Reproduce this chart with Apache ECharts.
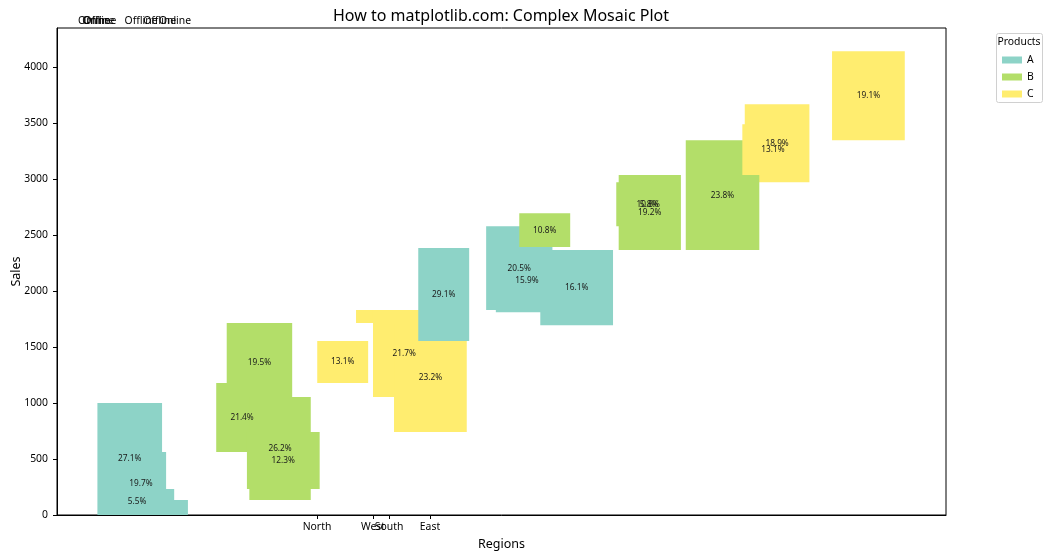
<!DOCTYPE html>
<html>
<head>
<meta charset="utf-8">
<script src="https://cdn.jsdelivr.net/npm/echarts@6/dist/echarts.min.js"></script>
<style>
  html, body { margin: 0; padding: 0; background: #fff; }
  #chart { width: 1050px; height: 560px; }
</style>
</head>
<body>
<div id="chart"></div>
<script>
// products and their colours
const products = ["A", "B", "C"]
const productColors = ["#8dd3c7", "#b3de69", "#ffed6f"]

// tiles, in drawing order (later ones cover earlier ones)
const tileProduct = ["A", "A", "A", "A", "B", "B", "B", "B", "C", "C", "C", "C",
  "A", "A", "A", "A", "B", "C", "B", "B", "C", "B", "C", "C"]
const tileX0 = [0.000, 0.023, 0.003, 0.028, 0.160, 0.147, 0.188, 0.185, 0.272, 0.320, 0.341, 0.367,
  0.397, 0.481, 0.493, 0.548, 0.522, 0.650, 0.642, 0.645, 0.801, 0.728, 0.798, 0.909]
const tileX1 = [0.080, 0.085, 0.095, 0.112, 0.241, 0.211, 0.264, 0.275, 0.335, 0.400, 0.418, 0.457,
  0.460, 0.563, 0.570, 0.638, 0.585, 0.715, 0.721, 0.722, 0.881, 0.819, 0.874, 0.999]
const tileY0 = [0, 0, 0, 0, 1000, 562, 134, 232, 1179, 1714, 1054, 741,
  1554, 1830, 1812, 1696, 2393, 2650, 2580, 2366, 2973, 2366, 3036, 3348]
const tileY1 = [1000, 562, 232, 134, 1714, 1179, 1054, 741, 1554, 1830, 1830, 1705,
  2384, 2580, 2366, 2366, 2696, 2900, 2973, 3036, 3670, 3348, 3491, 4143]
const tileShare = [27.1, 19.7, 5.5, null, 19.5, 21.4, 26.2, 12.3, 13.1, null, 21.7, 23.2,
  29.1, 20.5, 15.9, 16.1, 10.8, 5.8, 10.8, 19.2, 18.9, 23.8, 13.1, 19.1]

// region ticks on the x axis
const regionNames = ["North", "West", "South", "East"]
const regionTicks = [0.2717, 0.341, 0.361, 0.4115]

// channel labels above the plot
const channelNames = ["Online", "Offline", "Online", "Offline", "Offline", "Online"]
const channelX = [-0.004, 0.003, 0.001, 0.054, 0.077, 0.096]

const salesTicks = [0, 500, 1000, 1500, 2000, 2500, 3000, 3500, 4000]
const xMin = -0.05, xMax = 1.05, yMax = 4350

const FONT = "'Noto Sans', 'DejaVu Sans', sans-serif"

const chart = echarts.init(document.getElementById("chart"), null, { renderer: "canvas" })

const tileData = tileX0.map((x0, i) => [x0, tileX1[i], tileY0[i], tileY1[i]])

function colorOf(p) {
  return productColors[products.indexOf(p)]
}

function renderTile(params, api) {
  const i = params.dataIndex
  const a = api.coord([tileX0[i], tileY1[i]])
  const b = api.coord([tileX1[i], tileY0[i]])
  return {
    type: "rect",
    z2: i,
    shape: { x: a[0], y: a[1], width: b[0] - a[0], height: b[1] - a[1] },
    style: { fill: colorOf(tileProduct[i]) }
  }
}

function renderShare(params, api) {
  const i = params.dataIndex
  if (tileShare[i] == null) return null
  const c = api.coord([(tileX0[i] + tileX1[i]) / 2, (tileY0[i] + tileY1[i]) / 2])
  return {
    type: "text",
    x: c[0],
    y: c[1],
    style: {
      text: tileShare[i].toFixed(1) + "%",
      align: "center",
      verticalAlign: "middle",
      font: "8.3px " + FONT,
      fill: "#1a1a1a"
    }
  }
}

function renderChannel(params, api) {
  const i = params.dataIndex
  const c = api.coord([channelX[i], yMax])
  return {
    type: "text",
    x: c[0],
    y: c[1] - 7,
    style: {
      text: channelNames[i],
      align: "center",
      verticalAlign: "middle",
      font: "10.4px " + FONT,
      fill: "#000"
    }
  }
}

function regionLabel(v) {
  for (let i = 0; i < regionTicks.length; i++) {
    if (Math.abs(regionTicks[i] - v) < 1e-6) return regionNames[i]
  }
  return ""
}

chart.setOption({
  animation: false,
  textStyle: { fontFamily: FONT },
  grid: {
    left: 57, right: 104, top: 28, bottom: 45,
    outerBoundsMode: "none",
    containLabel: false,
    show: true, borderColor: "#000", borderWidth: 1, backgroundColor: "transparent"
  },
  xAxis: {
    type: "value",
    min: xMin,
    max: xMax,
    name: "Regions",
    nameLocation: "middle",
    nameGap: 23,
    nameTextStyle: { fontSize: 12.5, color: "#000", fontFamily: FONT },
    splitLine: { show: false },
    axisLine: { onZero: false, lineStyle: { color: "#000", width: 1 } },
    axisTick: { customValues: regionTicks, length: 4, lineStyle: { color: "#000" } },
    axisLabel: {
      customValues: regionTicks,
      formatter: regionLabel,
      fontSize: 10.4, color: "#000", margin: 7, fontFamily: FONT
    }
  },
  yAxis: {
    type: "value",
    min: 0,
    max: yMax,
    name: "Sales",
    nameLocation: "middle",
    nameGap: 34,
    nameMoveOverlap: false,
    nameTextStyle: { fontSize: 12.5, color: "#000", fontFamily: FONT },
    splitLine: { show: false },
    axisLine: { show: true, onZero: false, lineStyle: { color: "#000", width: 1 } },
    axisTick: { show: true, customValues: salesTicks, length: 4, lineStyle: { color: "#000" } },
    axisLabel: {
      customValues: salesTicks,
      formatter: v => String(v),
      fontSize: 10.4, color: "#000", margin: 9, fontFamily: FONT
    }
  },
  legend: {
    data: products,
    orient: "vertical",
    left: 1002,
    top: 55,
    padding: 0,
    itemWidth: 20,
    itemHeight: 7,
    itemGap: 7,
    icon: "rect",
    textStyle: { fontSize: 10.4, color: "#000", lineHeight: 10, fontFamily: FONT }
  },
  graphic: [
    {
      type: "text",
      x: 501, y: 16,
      style: {
        text: "How to matplotlib.com: Complex Mosaic Plot",
        align: "center", verticalAlign: "middle",
        font: "16px " + FONT, fill: "#000"
      }
    },
    {
      type: "rect",
      z: -1,
      shape: { x: 996.5, y: 33.5, width: 46, height: 69, r: 2 },
      style: { fill: "#fff", stroke: "#d0d0d0", lineWidth: 1 }
    },
    {
      type: "text",
      x: 1019, y: 42,
      style: {
        text: "Products",
        align: "center", verticalAlign: "middle",
        font: "10.4px " + FONT, fill: "#000"
      }
    }
  ],
  series: [
    {
      type: "custom",
      name: "tiles",
      renderItem: renderTile,
      encode: { x: [0, 1], y: [2, 3] },
      data: tileData,
      silent: true,
      z: 2
    },
    {
      type: "custom",
      name: "shares",
      renderItem: renderShare,
      encode: { x: [0, 1], y: [2, 3] },
      data: tileData,
      silent: true,
      z: 5
    },
    {
      type: "custom",
      name: "channels",
      renderItem: renderChannel,
      data: channelX.map(x => [x, yMax]),
      clip: false,
      silent: true,
      z: 5
    },
    ...products.map((p, i) => ({
      type: "bar",
      name: p,
      data: [],
      itemStyle: { color: productColors[i] }
    }))
  ]
})
</script>
</body>
</html>
